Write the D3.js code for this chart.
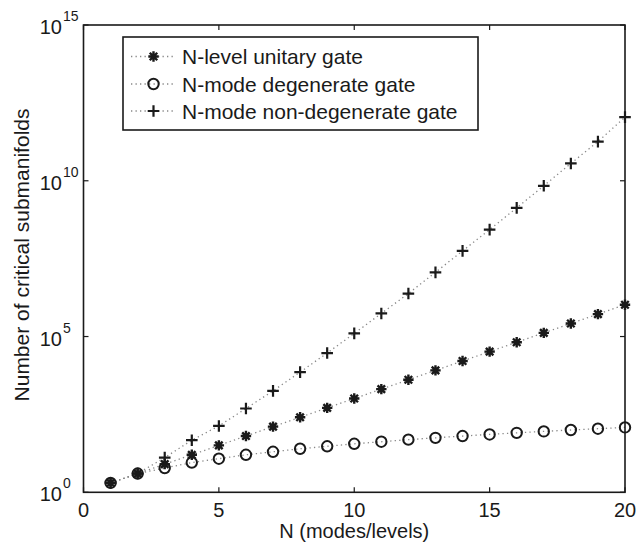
<!DOCTYPE html>
<html>
<head>
<meta charset="utf-8">
<script src="https://cdn.jsdelivr.net/npm/d3@7"></script>
<style>
  html, body { margin: 0; padding: 0; background: #fff; }
  svg { display: block; font-family: "Liberation Sans", Arial, sans-serif; }
</style>
</head>
<body>
<svg id="chart" width="639" height="546"></svg>
<script>
const N = [1,2,3,4,5,6,7,8,9,10,11,12,13,14,15,16,17,18,19,20];
const unitary = [2,4,8,16,32,64,128,256,512,1024,2048,4096,8192,16384,32768,65536,131072,262144,524288,1048576];
const degenerate = [2,4,6,9,12,16,20,25,30,36,42,49,56,64,72,81,90,100,110,121];
const nonDegenerate = [2,4,13,47,135,490,1800,7200,29500,1.26e5,5.5e5,2.4e6,1.15e7,5.6e7,2.7e8,1.35e9,6.9e9,3.6e10,1.8e11,1.1e12];
const xTicks = [0,5,10,15,20];
const yTickExps = [0,5,10,15];
const seriesNames = ["N-level unitary gate","N-mode degenerate gate","N-mode non-degenerate gate"];
const seriesMarkers = ["star","circle","plus"];

const svg = d3.select("#chart");
const L = 83.5, R = 625, T = 25, B = 492.3;
const x = d3.scaleLinear().domain([0,20]).range([L,R]);
const y = d3.scaleLog().domain([1,1e15]).range([B,T]);

const ink = "#1a1a1a";

function drawMarker(g, type, cx, cy) {
  if (type === "star") {
    const s = 5.2;
    const d = s*0.72;
    g.append("path")
      .attr("d", `M${cx-s},${cy}L${cx+s},${cy}M${cx},${cy-s}L${cx},${cy+s}M${cx-d},${cy-d}L${cx+d},${cy+d}M${cx-d},${cy+d}L${cx+d},${cy-d}`)
      .attr("stroke", ink).attr("stroke-width", 2.4).attr("fill","none");
  } else if (type === "circle") {
    g.append("circle").attr("cx",cx).attr("cy",cy).attr("r",5.2)
      .attr("fill","none").attr("stroke",ink).attr("stroke-width",2);
  } else {
    const s = 5.8;
    g.append("path")
      .attr("d", `M${cx-s},${cy}L${cx+s},${cy}M${cx},${cy-s}L${cx},${cy+s}`)
      .attr("stroke", ink).attr("stroke-width", 2.2).attr("fill","none");
  }
}

// data
const allSeries = [unitary, degenerate, nonDegenerate];
const line = d3.line().x((d,i)=>x(N[i])).y(d=>y(d));
allSeries.forEach((vals) => {
  svg.append("path").datum(vals).attr("d", line)
    .attr("fill","none").attr("stroke","#888").attr("stroke-width",1.3)
    .attr("stroke-dasharray","1.3,3.2");
});
allSeries.forEach((vals, si) => {
  const g = svg.append("g");
  vals.forEach((v,i) => drawMarker(g, seriesMarkers[si], x(N[i]), y(v)));
});

// frame
svg.append("rect").attr("x",L).attr("y",T).attr("width",R-L).attr("height",B-T)
  .attr("fill","none").attr("stroke",ink).attr("stroke-width",1.6);

// ticks
const tl = 5;
xTicks.forEach(t => {
  svg.append("line").attr("x1",x(t)).attr("x2",x(t)).attr("y1",B).attr("y2",B-tl).attr("stroke",ink).attr("stroke-width",1.2);
  svg.append("line").attr("x1",x(t)).attr("x2",x(t)).attr("y1",T).attr("y2",T+tl).attr("stroke",ink).attr("stroke-width",1.2);
  svg.append("text").attr("x",x(t)).attr("y",517).attr("text-anchor","middle")
    .attr("font-size",20).attr("fill",ink).text(t);
});
yTickExps.forEach(e => {
  const yy = y(Math.pow(10,e));
  svg.append("line").attr("x1",L).attr("x2",L+tl).attr("y1",yy).attr("y2",yy).attr("stroke",ink).attr("stroke-width",1.2);
  svg.append("line").attr("x1",R).attr("x2",R-tl).attr("y1",yy).attr("y2",yy).attr("stroke",ink).attr("stroke-width",1.2);
  svg.append("text").attr("x",62).attr("y",yy+9).attr("text-anchor","end")
    .attr("font-size",20).attr("fill",ink).text("10");
  svg.append("text").attr("x",63).attr("y",yy-4).attr("text-anchor","start")
    .attr("font-size",14).attr("fill",ink).text(e);
});

// axis labels
svg.append("text").attr("x",(L+R)/2).attr("y",538).attr("text-anchor","middle")
  .attr("font-size",20).attr("fill",ink).text("N (modes/levels)");
svg.append("text").attr("transform","translate(29,255) rotate(-90)").attr("text-anchor","middle")
  .attr("font-size",21).attr("fill",ink).text("Number of critical submanifolds");

// legend
const lg = svg.append("g");
lg.append("rect").attr("x",123).attr("y",37).attr("width",355).attr("height",93)
  .attr("fill","#fff").attr("stroke",ink).attr("stroke-width",1.6);
const rows = [56.5, 84, 111];
seriesNames.forEach((name, i) => {
  const ry = rows[i];
  lg.append("line").attr("x1",131).attr("x2",176).attr("y1",ry).attr("y2",ry)
    .attr("stroke","#888").attr("stroke-width",1.3).attr("stroke-dasharray","1.3,3.2");
  drawMarker(lg, seriesMarkers[i], 153.5, ry);
  lg.append("text").attr("x",182).attr("y",ry+7.5).attr("font-size",21).attr("fill",ink).text(name);
});
</script>
</body>
</html>
